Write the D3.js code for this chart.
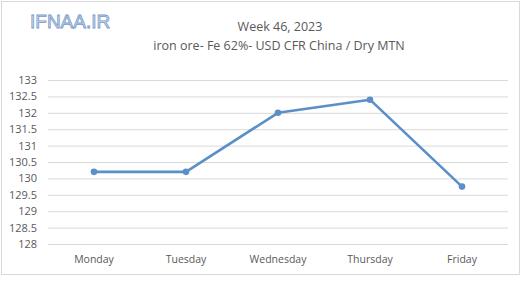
<!DOCTYPE html>
<html><head><meta charset="utf-8">
<script src="https://cdn.jsdelivr.net/npm/d3@7"></script>
<style>body{margin:0;background:#fff}</style>
</head><body>
<script>
const categories = ["Monday","Tuesday","Wednesday","Thursday","Friday"];
const values = [130.2, 130.2, 132.0, 132.4, 129.75];
const yTicks = [128,128.5,129,129.5,130,130.5,131,131.5,132,132.5,133];
const title = "Week 46, 2023";
const subtitle = "iron ore- Fe 62%- USD CFR China / Dry MTN";
const logo = "IFNAA.IR";

const W=522,H=282;
const svg=d3.select("body").append("svg").attr("width",W).attr("height",H);
svg.append("rect").attr("x",1.5).attr("y",1.5).attr("width",518).attr("height",273)
  .attr("fill","#fff").attr("stroke","#d9d9d9");
const font="'Open Sans', sans-serif";
const x=d3.scaleBand().domain(categories).range([48,508]);
const y=d3.scaleLinear().domain([128,133]).range([244,80]);

svg.append("text").attr("x",30).attr("y",28).text(logo)
  .attr("font-family","'Liberation Sans', Arial, sans-serif").attr("font-size",19)
  .attr("fill","#d0def0").attr("stroke","#7a98c8").attr("stroke-width",0.8);
svg.append("text").attr("x",280).attr("y",31).attr("text-anchor","middle").text(title)
  .attr("font-family",font).attr("font-size",12.5).attr("fill","#595959");
svg.append("text").attr("x",279).attr("y",50).attr("text-anchor","middle").text(subtitle)
  .attr("font-family",font).attr("font-size",12.5).attr("fill","#595959");

const ya=svg.append("g").attr("transform","translate(48,0)")
  .call(d3.axisLeft(y).tickValues(yTicks).tickSize(-460).tickPadding(11).tickFormat(d3.format("")));
ya.select(".domain").remove();
ya.selectAll("line").attr("stroke","#d9d9d9");
ya.selectAll("text").attr("font-family",font).attr("font-size",11).attr("fill","#595959");

const xa=svg.append("g").attr("transform","translate(0,244)")
  .call(d3.axisBottom(x).tickSize(0).tickPadding(12));
xa.select(".domain").remove();
xa.selectAll("text").attr("font-family",font).attr("font-size",10.5).attr("fill","#595959");

const line=d3.line().x((d,i)=>x(categories[i])+x.bandwidth()/2).y(d=>y(d));
svg.append("path").datum(values).attr("d",line).attr("fill","none")
  .attr("stroke","#5b8fc8").attr("stroke-width",2.6).attr("stroke-linejoin","round");
svg.selectAll("circle.m").data(values).join("circle")
  .attr("cx",(d,i)=>x(categories[i])+x.bandwidth()/2).attr("cy",d=>y(d)).attr("r",3.3)
  .attr("fill","#5b8fc8");
</script>
</body></html>
